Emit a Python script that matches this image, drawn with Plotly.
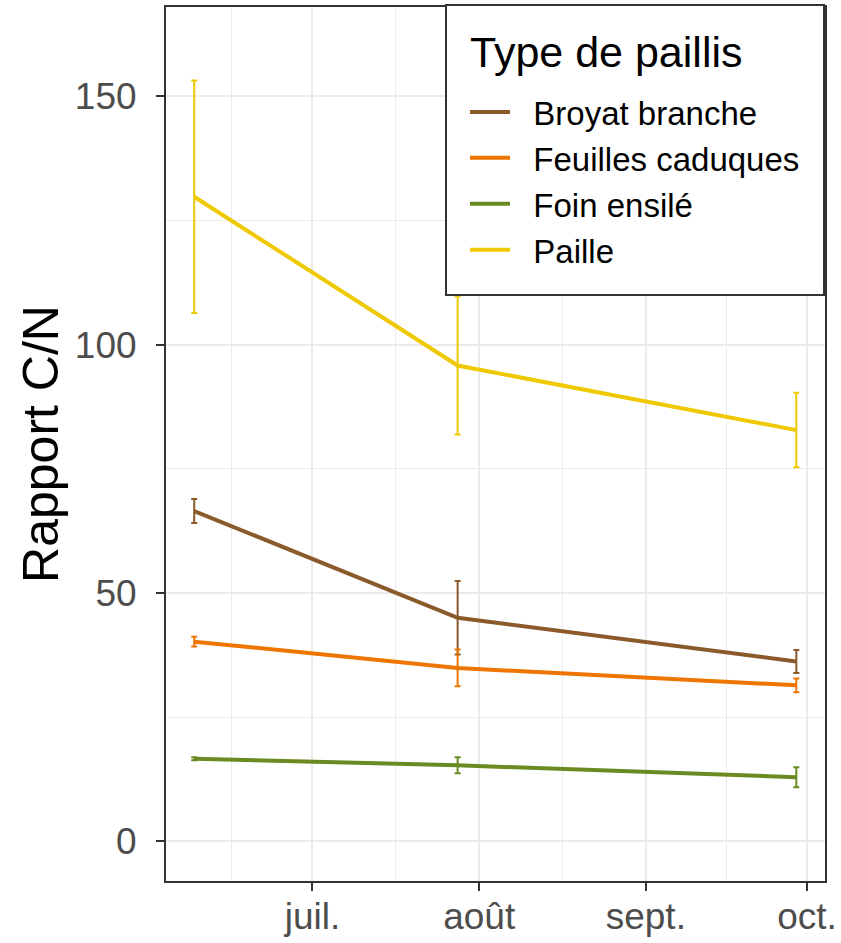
import plotly.graph_objects as go

dates = ["2022-06-09", "2022-07-28", "2022-09-29"]
series_names = ["Broyat branche", "Feuilles caduques", "Foin ensilé", "Paille"]
broyat = [66.5, 45.0, 36.2]
broyat_err = [2.4, 7.4, 2.3]
feuilles = [40.2, 34.9, 31.4]
feuilles_err = [1.0, 3.7, 1.4]
foin = [16.6, 15.3, 12.9]
foin_err = [0.3, 1.6, 2.0]
paille = [129.8, 95.8, 82.8]
paille_err = [23.4, 13.9, 7.5]
colors = ["#8B5A2B", "#EE7600", "#698B22", "#EEC900"]
legend_title = "Type de paillis"

month_ticks = ["2022-07-01", "2022-08-01", "2022-09-01", "2022-10-01"]
month_labels = ["juil.", "août", "sept.", "oct."]
minor_x = ["2022-06-16", "2022-07-16 12:00", "2022-08-16 12:00", "2022-09-16"]
y_ticks = [0, 50, 100, 150]
y_minor = [25, 75, 125]

values = [broyat, feuilles, foin, paille]
errors = [broyat_err, feuilles_err, foin_err, paille_err]

FONT = "Liberation Sans, Arial, sans-serif"
NBSP = "\u00a0"
fig = go.Figure()
for name, v, e, c in zip(series_names, values, errors, colors):
    fig.add_trace(go.Scatter(
        x=dates, y=v, name=NBSP * 2 + name, mode="lines",
        line=dict(color=c, width=4),
        error_y=dict(type="data", array=e, visible=True, color=c, thickness=2, width=3),
    ))

grid = "#EBEBEB"
# legend frame (box behind the legend entries)
fig.add_shape(type="rect", xref="paper", yref="paper",
              x0=0.4249, x1=0.9985, y0=0.6705, y1=1.0023,
              fillcolor="white", line=dict(color="#333333", width=2), layer="above")
fig.add_annotation(text=legend_title, xref="paper", yref="paper",
                   x=0.4590, y=0.9485, xanchor="left", yanchor="middle",
                   showarrow=False, font=dict(size=43, color="black", family=FONT))

fig.update_layout(
    width=841, height=943,
    margin=dict(l=166, r=16, t=7, b=62),
    paper_bgcolor="white", plot_bgcolor="white",
    font=dict(family=FONT, color="black"),
    showlegend=True,
    legend=dict(
        x=0.4537, y=0.9119, xanchor="left", yanchor="top",
        bgcolor="rgba(0,0,0,0)", borderwidth=0,
        font=dict(size=33, color="black", family=FONT),
        itemwidth=40,
    ),
    xaxis=dict(
        type="date", automargin=False,
        range=["2022-06-03 18:00", "2022-10-04 08:00"],
        tickmode="array", tickvals=month_ticks, ticktext=month_labels,
        tickfont=dict(size=37, color="#4D4D4D"),
        ticks="outside", ticklen=8, tickwidth=2, tickcolor="#333333",
        ticklabelstandoff=-6,
        showgrid=True, gridcolor=grid, gridwidth=2,
        minor=dict(tickmode="array", tickvals=minor_x, showgrid=True, gridcolor=grid, gridwidth=1.2, ticks=""),
        showline=True, linecolor="#333333", linewidth=2, mirror=True,
        zeroline=False,
    ),
    yaxis=dict(
        range=[-8, 168], automargin=False,
        tickmode="array", tickvals=y_ticks,
        tickfont=dict(size=37, color="#4D4D4D"),
        ticks="outside", ticklen=8, tickwidth=2, tickcolor="#333333",
        ticklabelstandoff=12,
        showgrid=True, gridcolor=grid, gridwidth=2,
        minor=dict(tickmode="array", tickvals=y_minor, showgrid=True, gridcolor=grid, gridwidth=1.2, ticks=""),
        showline=True, linecolor="#333333", linewidth=2, mirror=True,
        zeroline=False,
        title=dict(text="Rapport C/N", font=dict(size=50, color="black"), standoff=0),
    ),
)
fig.write_html("out.html", config={"displayModeBar": False},
               post_script="document.body.style.margin='0px';")
